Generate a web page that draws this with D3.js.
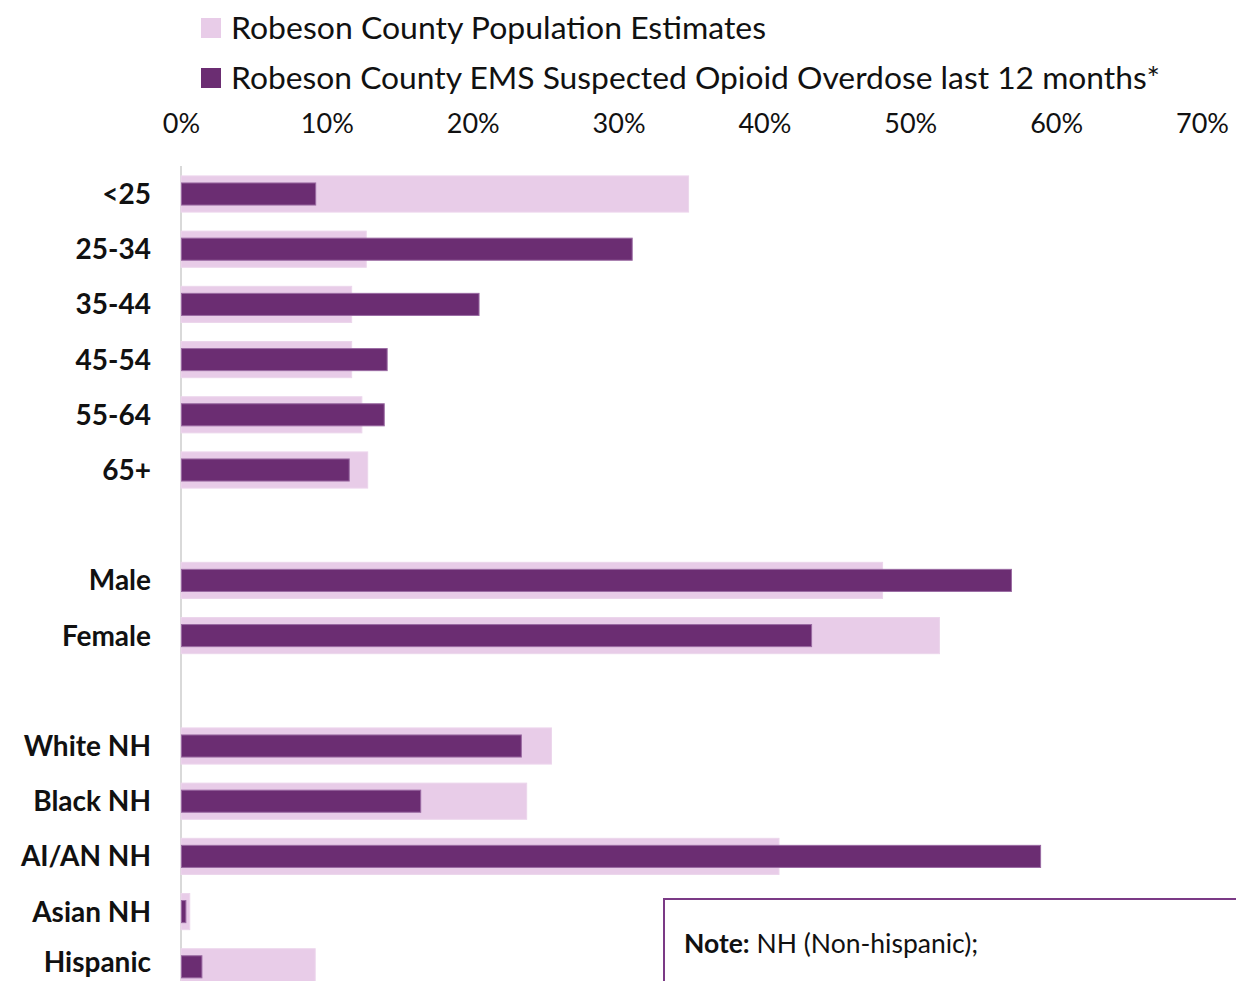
<!DOCTYPE html>
<html>
<head>
<meta charset="utf-8">
<script src="https://cdn.jsdelivr.net/npm/d3@7"></script>
<style>
  html, body { margin: 0; padding: 0; background: #fff; overflow: hidden; }
  svg { display: block; }
  text { font-family: Lato, "Open Sans", sans-serif; }
</style>
</head>
<body>
<svg id="chart" width="1236" height="981"></svg>
<script>
// ---- data ----
const categories = ["<25","25-34","35-44","45-54","55-64","65+","gap1","Male","Female","gap2","White NH","Black NH","AI/AN NH","Asian NH","Hispanic"];
const populationEstimates = [0.348,0.127,0.117,0.117,0.124,0.128,null,0.481,0.520,null,0.254,0.237,0.410,0.006,0.092];
const emsOverdose        = [0.092,0.309,0.204,0.141,0.139,0.115,null,0.569,0.432,null,0.233,0.164,0.589,0.003,0.014];
const xTicks = [0,0.1,0.2,0.3,0.4,0.5,0.6,0.7];
const seriesNames = ["Robeson County Population Estimates","Robeson County EMS Suspected Opioid Overdose last 12 months*"];
const noteLabel = "Note:";
const noteText = " NH (Non-hispanic);";

const lightColor = "#E8CCE8";
const darkColor = "#6B2D72";

const svg = d3.select("#chart");

const x = d3.scaleLinear().domain([0, 0.7]).range([181, 1202]);
const y = d3.scaleBand().domain(categories).range([166.4, 994.4]);
const step = y.step();

// legend
const legend = svg.append("g");
[lightColor, darkColor].forEach((c, i) => {
  legend.append("rect").attr("x", 201).attr("y", 18 + i*50).attr("width", 20).attr("height", 20).attr("fill", c);
  legend.append("text").attr("x", 231).attr("y", 28 + i*50).attr("dy", "0.36em")
    .attr("font-size", 30.5).attr("fill", "#111")
    .attr("textLength", i === 0 ? 535 : 929).attr("lengthAdjust", "spacingAndGlyphs")
    .text(seriesNames[i]);
});

// top axis
const xAxis = d3.axisTop(x).tickValues(xTicks).tickFormat(d3.format(".0%")).tickSize(0);
const gx = svg.append("g").attr("transform", "translate(0,136)").call(xAxis);
gx.select(".domain").remove();
gx.selectAll("text").attr("font-size", 27).attr("fill", "#111").attr("font-family", "Lato, sans-serif").attr("dy", 0);

// vertical axis line
svg.append("line").attr("x1", 181).attr("x2", 181).attr("y1", 166).attr("y2", 981)
  .attr("stroke", "#d9d9d9").attr("stroke-width", 2);

const rows = categories.map((c, i) => ({c, pop: populationEstimates[i], ems: emsOverdose[i]})).filter(d => d.pop !== null);

const lightH = step * 0.655;
const darkH = step * 0.40;

svg.append("g").selectAll("rect").data(rows).join("rect")
  .attr("x", x(0)).attr("width", d => x(d.pop) - x(0))
  .attr("y", d => y(d.c) + step/2 - lightH/2).attr("height", lightH)
  .attr("fill", lightColor).attr("stroke", "#ecd6ec").attr("stroke-width", 1);

svg.append("g").selectAll("rect").data(rows).join("rect")
  .attr("x", x(0) + 0.5).attr("width", d => x(d.ems) - x(0))
  .attr("y", d => y(d.c) + step/2 - darkH/2).attr("height", darkH)
  .attr("fill", darkColor).attr("stroke", "#9a6aa2").attr("stroke-width", 1);

// category labels (keep the last one inside the frame)
svg.append("g").selectAll("text").data(rows).join("text")
  .attr("x", 151).attr("y", d => Math.min(y(d.c) + step/2, 962)).attr("dy", "0.36em")
  .attr("text-anchor", "end").attr("font-size", 28).attr("font-weight", "bold").attr("fill", "#111")
  .text(d => d.c);

// note box
svg.append("rect").attr("x", 664).attr("y", 899).attr("width", 640).attr("height", 200)
  .attr("fill", "#fff").attr("stroke", "#7B3A86").attr("stroke-width", 2);
const nt = svg.append("text").attr("x", 684).attr("y", 953).attr("font-size", 26.5).attr("fill", "#111");
nt.append("tspan").attr("font-weight", "bold").text(noteLabel);
nt.append("tspan").text(noteText);
</script>
</body>
</html>
